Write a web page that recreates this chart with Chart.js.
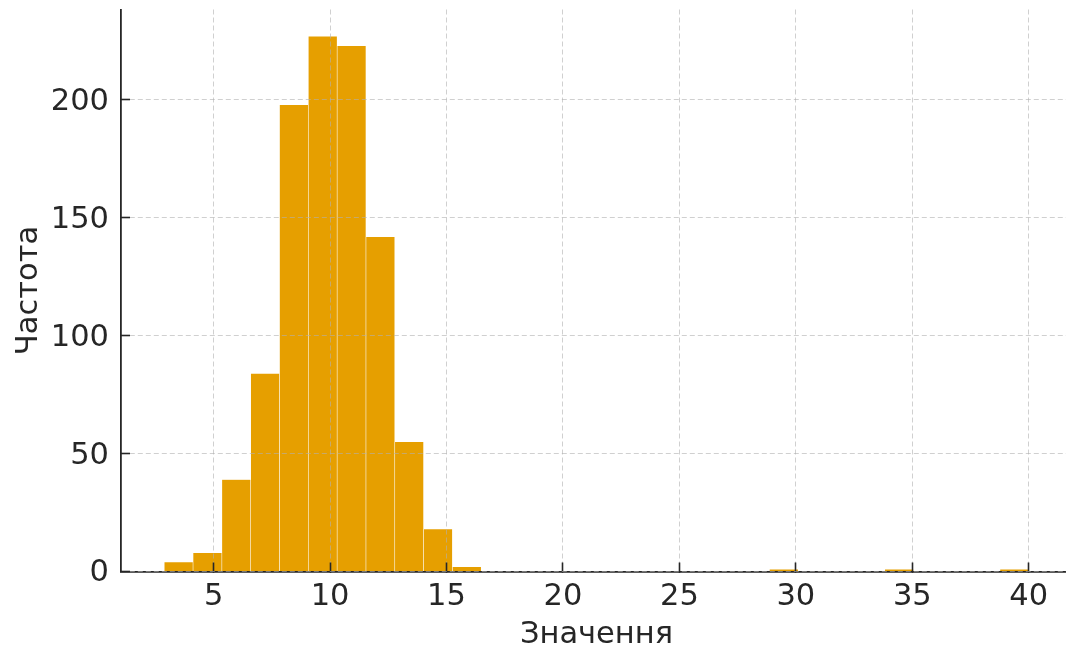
<!DOCTYPE html>
<html>
<head>
<meta charset="utf-8">
<script src="https://cdn.jsdelivr.net/npm/chart.js@4.4.1/dist/chart.umd.min.js"></script>
<style>
  html, body { margin: 0; padding: 0; background: #ffffff; overflow: hidden; }
  #wrap { width: 1066px; height: 649px; overflow: hidden; }
  canvas { display: block; }
</style>
</head>
<body>
<div id="wrap"><canvas id="hist" width="1072" height="649"></canvas></div>
<script>
// Histogram: 30 equal-width bins spanning the sample range
const binLow = 2.88;
const binHigh = 40.0;
const counts = [4, 8, 39, 84, 198, 227, 223, 142, 55, 18, 2, 0, 0, 0, 0,
                0, 0, 0, 0, 0, 0, 1, 0, 0, 0, 1, 0, 0, 0, 1];
const xTicks = [5, 10, 15, 20, 25, 30, 35, 40];
const yTicks = [0, 50, 100, 150, 200];
const xTitle = 'Значення';
const yTitle = 'Частота';

const binWidth = (binHigh - binLow) / counts.length;
const points = counts.map((c, i) => ({ x: binLow + (i + 0.5) * binWidth, y: c }));
const margin = (binHigh - binLow) * 0.05;
const yMax = Math.max(...counts) * 1.05;

const ink = '#262626';
const gridColor = 'rgba(176,176,176,0.6)';
const font = { family: '"DejaVu Sans", sans-serif', size: 30.5 };

// no extra room for the outermost tick labels
const noEdgePadding = s => { s.paddingTop = 0; s.paddingBottom = 0; s.paddingLeft = 0; s.paddingRight = 0; };

new Chart(document.getElementById('hist'), {
  type: 'bar',
  data: {
    datasets: [{
      data: points,
      backgroundColor: '#E69F00',
      borderColor: 'rgba(255,255,255,0.25)',
      borderWidth: 0.6,
      barPercentage: 1,
      categoryPercentage: 1
    }]
  },
  options: {
    responsive: false,
    animation: false,
    devicePixelRatio: 1,
    layout: { padding: { top: 9.5, left: 0, right: 0, bottom: 0 } },
    plugins: { legend: { display: false }, tooltip: { enabled: false } },
    scales: {
      x: {
        type: 'linear',
        offset: false,
        min: binLow - margin,
        max: binHigh + margin,
        afterBuildTicks: s => { s.ticks = xTicks.map(v => ({ value: v })); },
        afterFit: s => { s.height = 77.5; noEdgePadding(s); },
        grid: {
          offset: false,
          color: gridColor, lineWidth: 1, z: 1,
          tickLength: -9, tickColor: ink, tickWidth: 1.6, tickBorderDash: []
        },
        border: { display: true, color: ink, width: 1.8, dash: [5, 3], z: 1 },
        ticks: { color: ink, font: font, padding: 16, maxRotation: 0, autoSkip: false },
        title: {
          display: true, text: xTitle, color: ink,
          font: Object.assign({ lineHeight: 1 }, font),
          padding: { top: 0, bottom: -1.6 }
        }
      },
      y: {
        min: 0,
        max: yMax,
        afterBuildTicks: s => { s.ticks = yTicks.map(v => ({ value: v })); },
        afterFit: s => { s.width = 121; noEdgePadding(s); },
        grid: {
          color: gridColor, lineWidth: 1, z: 1,
          tickLength: -9, tickColor: ink, tickWidth: 1.6, tickBorderDash: []
        },
        border: { display: true, color: ink, width: 1.8, dash: [5, 3], z: 1 },
        ticks: { color: ink, font: font, padding: 21, labelOffset: 2, autoSkip: false },
        title: {
          display: true, text: yTitle, color: ink,
          font: font,
          padding: { top: 11, bottom: 0 }
        }
      }
    }
  }
});
</script>
</body>
</html>
